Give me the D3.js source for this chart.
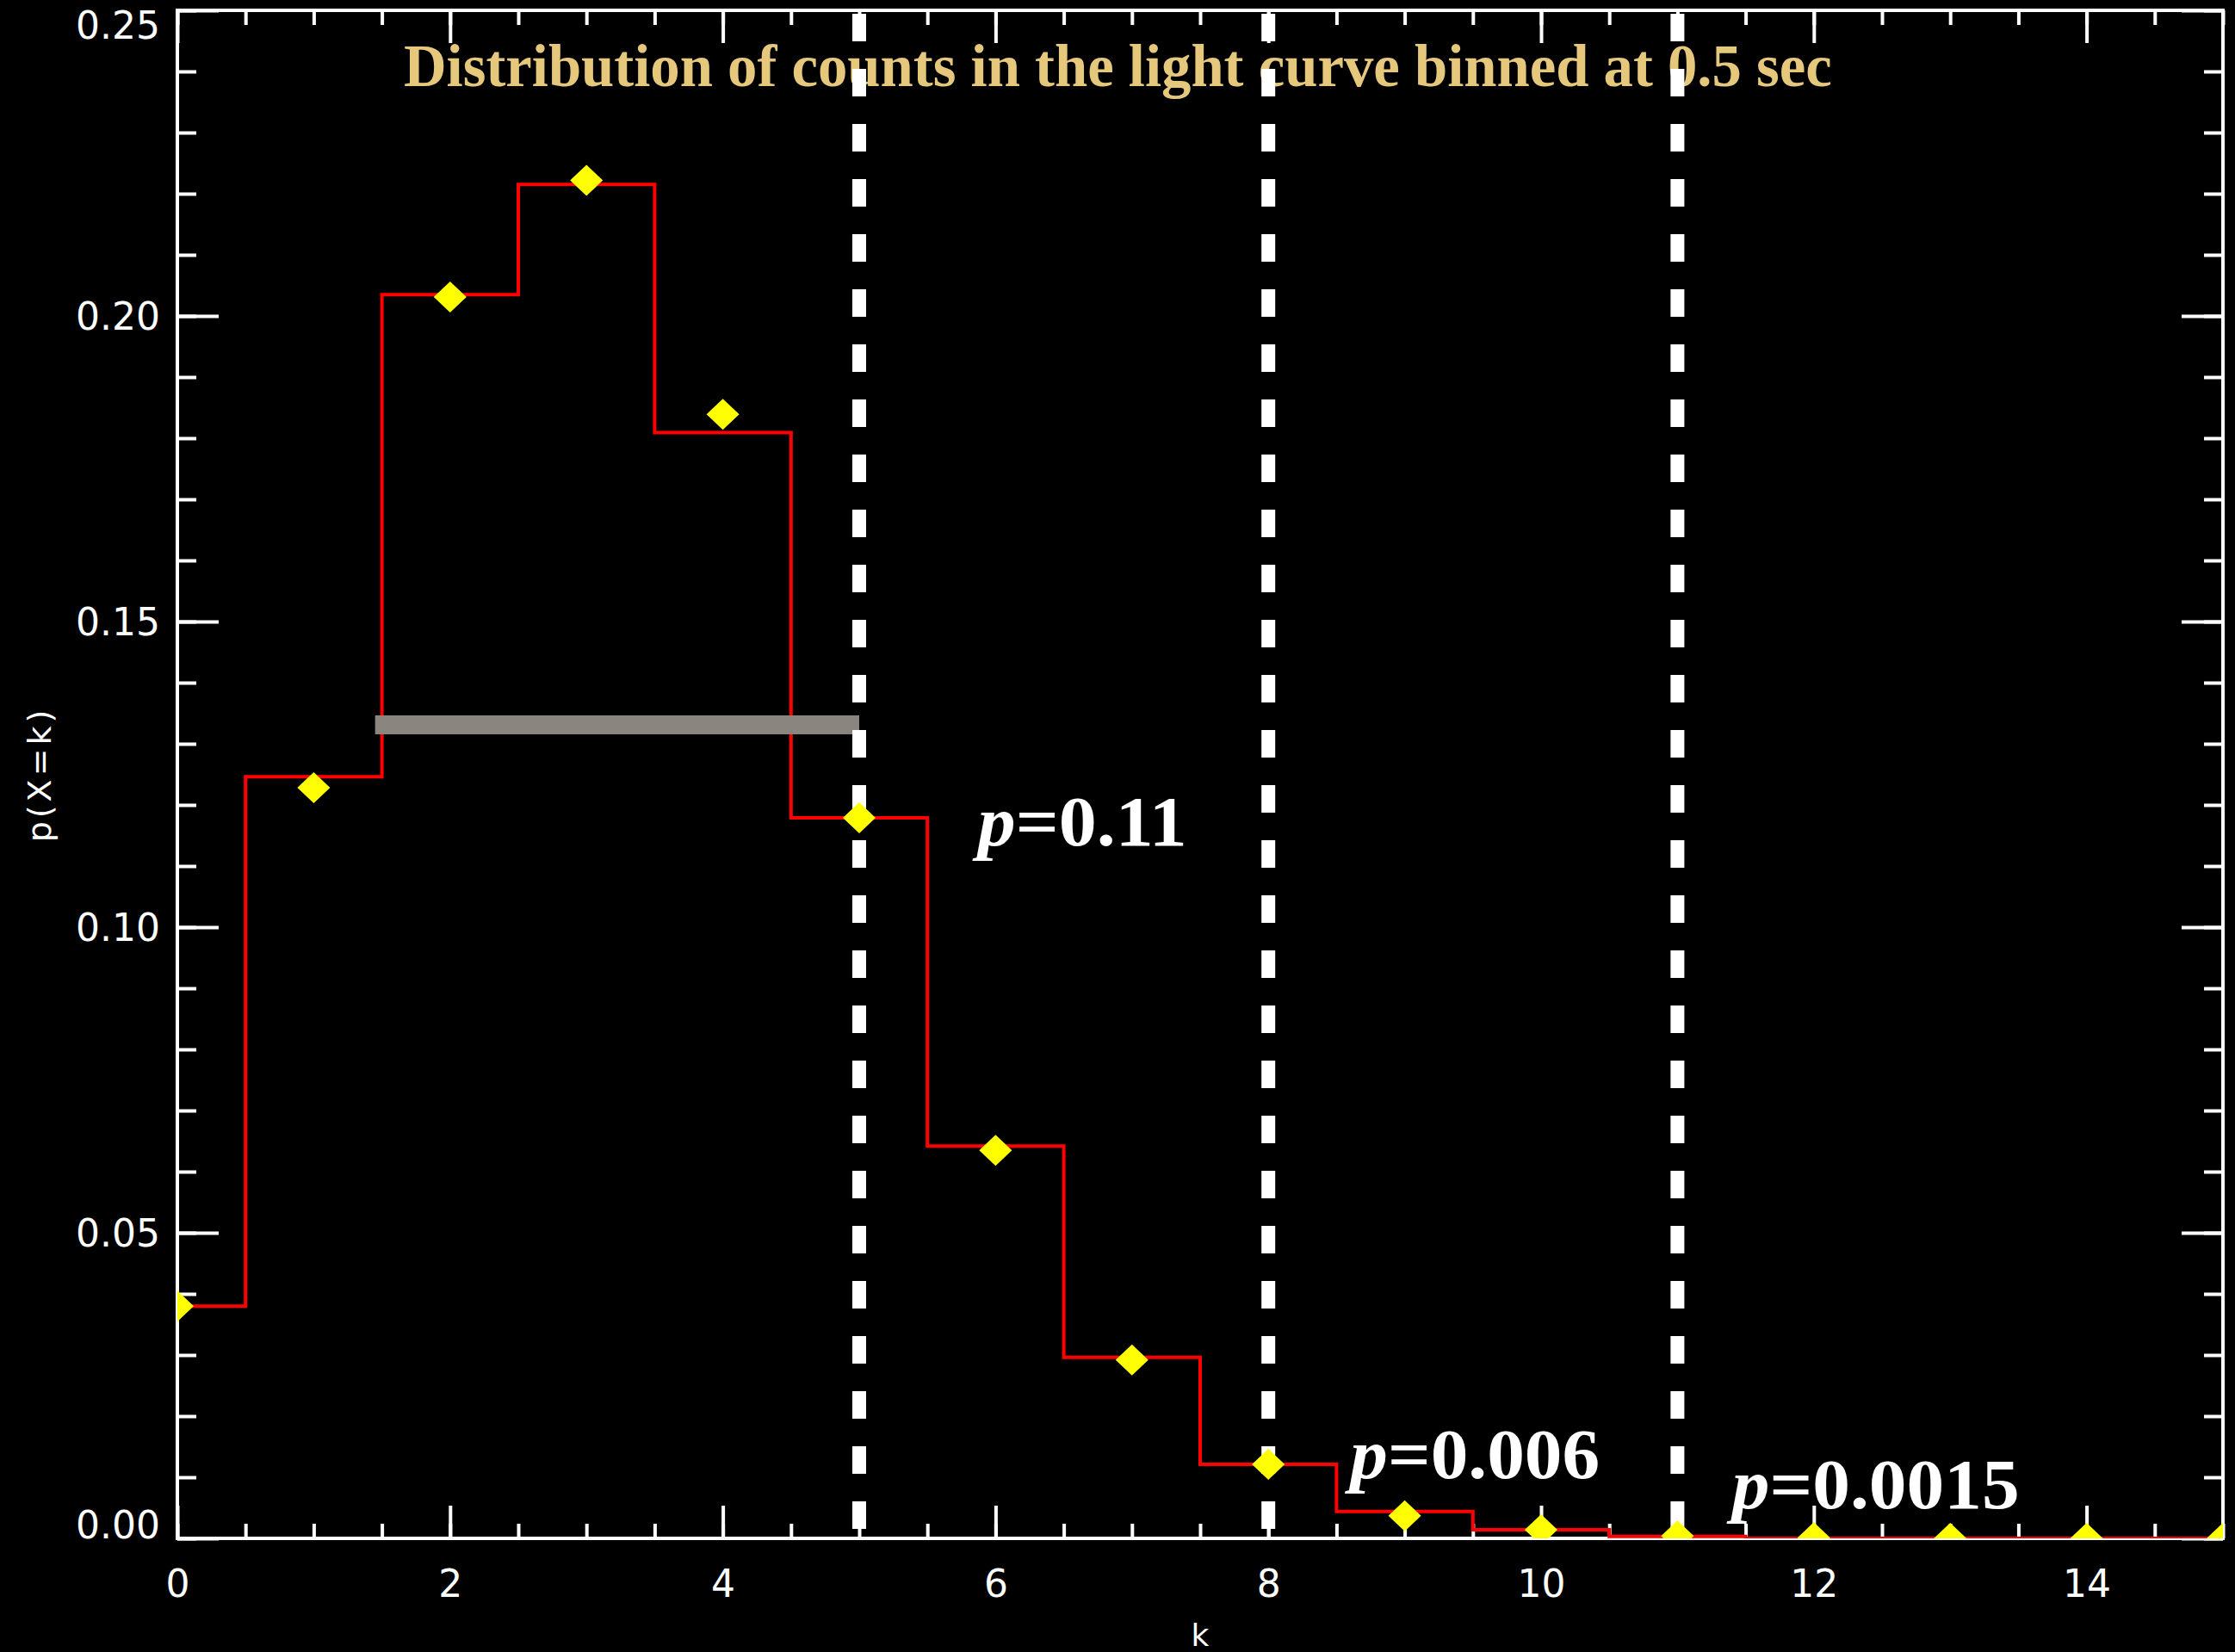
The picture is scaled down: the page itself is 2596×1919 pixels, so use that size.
<!DOCTYPE html>
<html>
<head>
<meta charset="utf-8">
<script src="https://cdn.jsdelivr.net/npm/d3@7"></script>
<style>
  body { margin: 0; background: #000; }
  svg { display: block; }
</style>
</head>
<body>
<div id="chart"></div>
<script>
// counts k and the probabilities
const kValues = [0, 1, 2, 3, 4, 5, 6, 7, 8, 9, 10, 11, 12, 13, 14, 15]
const observed = [0.038, 0.1246, 0.2035, 0.2215, 0.1809, 0.1179, 0.0642, 0.0296, 0.0121, 0.0044, 0.0014, 0.0003, 0, 0, 0, 0]
const model = [0.038, 0.1228, 0.2031, 0.2222, 0.1839, 0.1179, 0.0635, 0.0292, 0.0121, 0.0037, 0.0014, 0.0004, 0.0001, 0, 0, 0]
const thresholds = [5, 8, 11]
const pLabels = ["0.11", "0.006", "0.0015"]
const xTickLabels = ["0", "2", "4", "6", "8", "10", "12", "14"]
const yTickLabels = ["0.00", "0.05", "0.10", "0.15", "0.20", "0.25"]
const meanBand = { from: 1.45, to: 5, level: 0.1331 }
const titleText = "Distribution of counts in the light curve binned at 0.5 sec"

const width = 2596, height = 1919
const plotLeft = 206, plotRight = 2582, plotTop = 12, plotBottom = 1787

const svg = d3.select("#chart").append("svg")
  .attr("width", width)
  .attr("height", height)
  .style("background", "#000")

const x = d3.scaleLinear().domain([0, 15]).range([plotLeft, plotRight])
const y = d3.scaleLinear().domain([0, 0.25]).range([plotBottom, plotTop])

svg.append("defs").append("clipPath")
  .attr("id", "plot")
  .append("rect")
    .attr("x", plotLeft).attr("y", plotTop)
    .attr("width", plotRight - plotLeft).attr("height", plotBottom - plotTop)

const sans = "'DejaVu Sans', sans-serif"
const serif = "'Liberation Serif', 'DejaVu Serif', serif"

// squeeze a text horizontally so it spans the wanted width
function fitWidth(sel, x0, y0, w) {
  const natural = sel.node().getComputedTextLength()
  sel.attr("transform", "translate(" + x0 + "," + y0 + ") scale(" + (w / natural) + ",1)")
}

/* ------- AXES -------*/
const xMinor = d3.range(0, 15.01, 0.5)
const xMajor = xTickLabels.map(Number)
const yMinor = d3.range(0, 0.2501, 0.01)
const yMajor = yTickLabels.map(Number)

function styleAxis(g) {
  g.select(".domain").remove()
  g.selectAll("line").attr("stroke", "#fff").attr("stroke-width", 4)
  g.selectAll("text").attr("fill", "#fff").style("font-family", sans).style("font-size", "44px")
}

svg.append("g")
  .attr("transform", "translate(0," + plotBottom + ")")
  .call(d3.axisBottom(x).tickValues(xMinor).tickSize(-17).tickFormat(""))
  .call(styleAxis)
svg.append("g")
  .attr("transform", "translate(0," + plotBottom + ")")
  .call(d3.axisBottom(x).tickValues(xMajor).tickSize(-38).tickPadding(37)
    .tickFormat((d, i) => xTickLabels[i]))
  .call(styleAxis)
svg.append("g")
  .attr("transform", "translate(0," + plotTop + ")")
  .call(d3.axisTop(x).tickValues(xMinor).tickSize(-17).tickFormat(""))
  .call(styleAxis)
svg.append("g")
  .attr("transform", "translate(0," + plotTop + ")")
  .call(d3.axisTop(x).tickValues(xMajor).tickSize(-38).tickFormat(""))
  .call(styleAxis)

svg.append("g")
  .attr("transform", "translate(" + plotLeft + ",0)")
  .call(d3.axisLeft(y).tickValues(yMinor).tickSize(-22).tickFormat(""))
  .call(styleAxis)
const yAxis = svg.append("g")
  .attr("transform", "translate(" + plotLeft + ",0)")
  .call(d3.axisLeft(y).tickValues(yMajor).tickSize(-48).tickPadding(20)
    .tickFormat((d, i) => yTickLabels[i]))
  .call(styleAxis)
svg.append("g")
  .attr("transform", "translate(" + plotRight + ",0)")
  .call(d3.axisRight(y).tickValues(yMinor).tickSize(-22).tickFormat(""))
  .call(styleAxis)
svg.append("g")
  .attr("transform", "translate(" + plotRight + ",0)")
  .call(d3.axisRight(y).tickValues(yMajor).tickSize(-48).tickFormat(""))
  .call(styleAxis)

// end labels are pushed inside the axis range, like IDL does
yAxis.selectAll("text")
  .attr("dy", "0.36em")
  .attr("y", d => d === 0 ? -16 : (d === 0.25 ? 17 : 0))

svg.append("rect")
  .attr("x", plotLeft).attr("y", plotTop)
  .attr("width", plotRight - plotLeft).attr("height", plotBottom - plotTop)
  .attr("fill", "none")
  .attr("stroke", "#fff")
  .attr("stroke-width", 4)

svg.append("text")
  .attr("text-anchor", "middle")
  .attr("x", x(7.5)).attr("y", 1912)
  .attr("fill", "#fff")
  .style("font-family", sans).style("font-size", "36px")
  .text("k")

svg.append("text")
  .attr("transform", "translate(59," + y(0.125) + ") rotate(-90)")
  .attr("text-anchor", "middle")
  .attr("fill", "#fff")
  .attr("letter-spacing", 4)
  .style("font-family", sans).style("font-size", "38px")
  .text("p(X=k)")

/* ------- TITLE -------*/
const title = svg.append("text")
  .attr("fill", "#e6c87c")
  .style("font-family", serif).style("font-size", "70px").style("font-weight", "bold")
  .text(titleText)
fitWidth(title, x(1.66), y(0.2376), 1659)

/* ------- HISTOGRAM -------*/
const step = d3.line()
  .x((d, i) => x(kValues[i]))
  .y(d => y(d))
  .curve(d3.curveStep)

svg.append("path")
  .datum(observed)
  .attr("clip-path", "url(#plot)")
  .attr("d", step)
  .attr("fill", "none")
  .attr("stroke", "#ff0000")
  .attr("stroke-width", 4)

svg.append("line")
  .attr("x1", x(meanBand.from)).attr("x2", x(meanBand.to))
  .attr("y1", y(meanBand.level)).attr("y2", y(meanBand.level))
  .attr("stroke", "#8a857f")
  .attr("stroke-width", 22)

/* ------- THRESHOLDS -------*/
svg.append("g").selectAll("line")
  .data(thresholds)
  .join("line")
    .attr("x1", d => x(d)).attr("x2", d => x(d))
    .attr("y1", plotTop + 4).attr("y2", plotBottom)
    .attr("stroke", "#fff")
    .attr("stroke-width", 16)
    .attr("stroke-dasharray", "32,32")

svg.append("g")
  .attr("clip-path", "url(#plot)")
  .selectAll("path")
  .data(model)
  .join("path")
    .attr("d", "M0,-18L19,0L0,18L-19,0Z")
    .attr("transform", (d, i) => "translate(" + x(kValues[i]) + "," + y(d) + ")")
    .attr("fill", "#ffff00")

/* ------- P-VALUE LABELS -------*/
const pPlaces = [
  { k: 5.87, v: 0.1134, w: 243 },
  { k: 8.60, v: 0.0099, w: 290 },
  { k: 11.40, v: 0.0049, w: 334 }
]
pLabels.forEach((lab, i) => {
  const t = svg.append("text")
    .attr("fill", "#fff")
    .style("font-family", serif).style("font-size", "82px").style("font-weight", "bold")
  t.append("tspan").style("font-style", "italic").text("p")
  t.append("tspan").text("=" + lab)
  fitWidth(t, x(pPlaces[i].k), y(pPlaces[i].v), pPlaces[i].w)
})
</script>
</body>
</html>
